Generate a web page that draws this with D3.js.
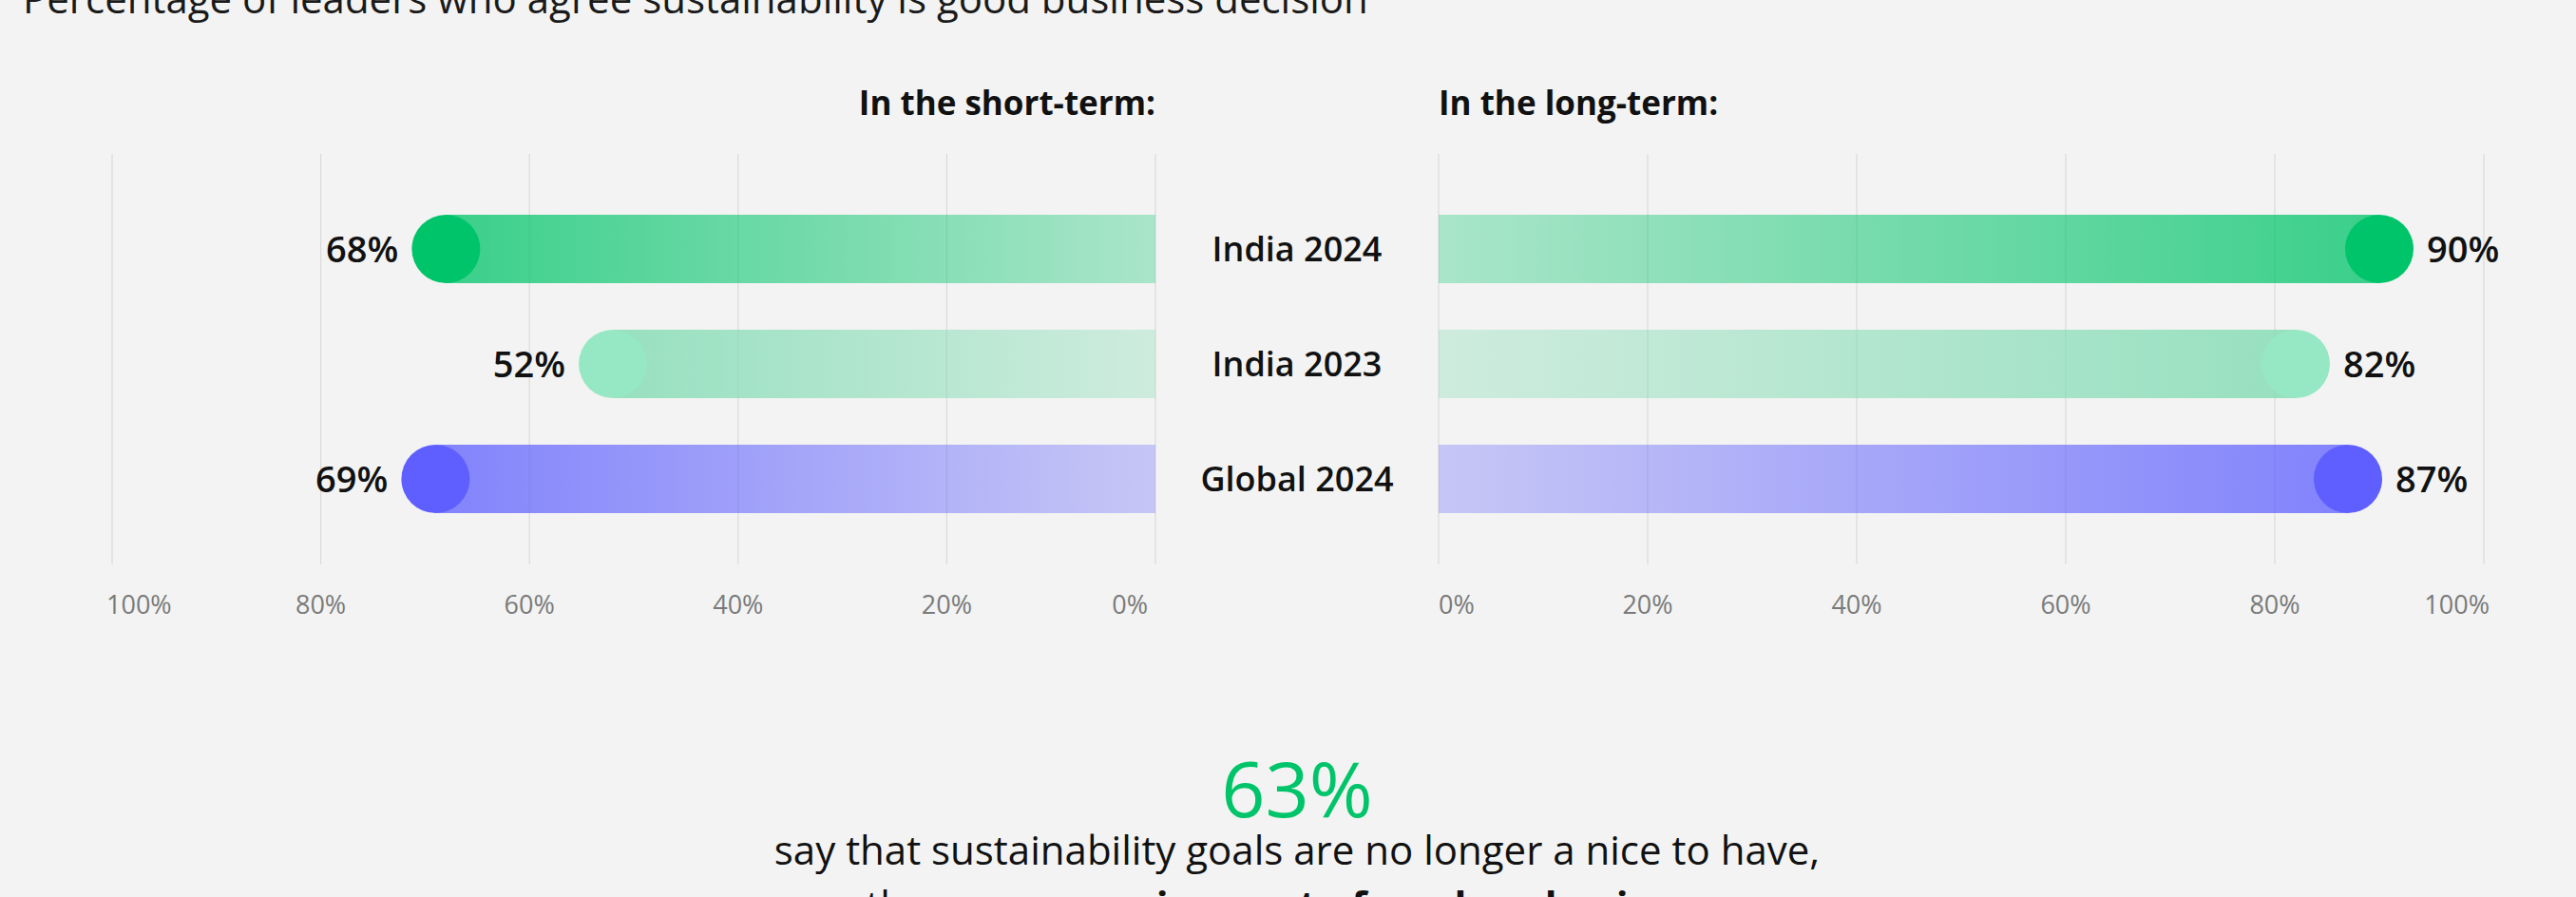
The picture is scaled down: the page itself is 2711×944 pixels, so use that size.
<!DOCTYPE html>
<html>
<head>
<meta charset="utf-8">
<script src="https://cdn.jsdelivr.net/npm/d3@7"></script>
<style>
  body { margin: 0; background: #f2f3f2; }
  svg { display: block; font-family: 'Open Sans', sans-serif; }
</style>
</head>
<body>
<div id="chart"></div>
<script>
const TITLE = 'Percentage of leaders who agree sustainability is good business decision';
const categories = ['India 2024', 'India 2023', 'Global 2024'];
const shortTerm = [68, 52, 69];
const longTerm = [90, 82, 87];
const tickValues = [0, 20, 40, 60, 80, 100];
const capColors = ['#00c46a', '#96e8c4', '#5f5fff'];
const barColors = ['#00c46a', '#7adaaf', '#5f5fff'];
const panelTitles = ['In the short-term:', 'In the long-term:'];
const highlight = '63%';
const noteLine1 = 'say that sustainability goals are no longer a nice to have,';
const noteLine2 = ['they are ', 'a requirement of modern business', '.'];

const W = 2711, H = 944;
const svg = d3.select('#chart').append('svg').attr('width', W).attr('height', H);
const defs = svg.append('defs');

const xLeft = d3.scaleLinear().domain([0, 100]).range([1216, 118]);
const xRight = d3.scaleLinear().domain([0, 100]).range([1514, 2614]);
const y = d3.scalePoint().domain(categories).range([262, 504]);
const BAR_H = 72, R = BAR_H / 2, GRID_TOP = 162, GRID_BOT = 594;

// title (cut at the top like the source)
svg.append('text').attr('x', 24).attr('y', 14).attr('fill', '#1a1a1a')
  .style('font-size', '42px').text(TITLE);

// gradients: strong at the value end, fading toward 0
categories.forEach((c, i) => {
  ['L', 'R'].forEach(side => {
    const g = defs.append('linearGradient').attr('id', `grad${side}${i}`)
      .attr('x1', side === 'L' ? 0 : 1).attr('x2', side === 'L' ? 1 : 0).attr('y1', 0).attr('y2', 0);
    g.append('stop').attr('offset', 0).attr('stop-color', barColors[i]).attr('stop-opacity', 0.76);
    g.append('stop').attr('offset', 1).attr('stop-color', barColors[i]).attr('stop-opacity', 0.3);
  });
});

function panel(x, values, side) {
  const g = svg.append('g');
  g.selectAll('line.grid').data(tickValues).enter().append('line')
    .attr('x1', d => x(d)).attr('x2', d => x(d)).attr('y1', GRID_TOP).attr('y2', GRID_BOT)
    .attr('stroke', '#dadada').attr('stroke-width', 1.2);

  g.selectAll('text.tick').data(tickValues).enter().append('text')
    .attr('x', d => d === 100 ? x(d) + (side === 'L' ? -6 : 6) : d === 0 ? x(d) + (side === 'L' ? -8 : 0) : x(d))
    .attr('y', 646)
    .attr('text-anchor', d => {
      if (d === 0) return side === 'L' ? 'end' : 'start';
      if (d === 100) return side === 'L' ? 'start' : 'end';
      return 'middle';
    })
    .attr('fill', '#7a7a7a').style('font-size', '27px').text(d => d + '%');

  const bars = g.selectAll('g.bar').data(categories).enter().append('g');
  bars.append('rect')
    .attr('x', (d, i) => Math.min(x(0), x(values[i])))
    .attr('width', (d, i) => Math.abs(x(values[i]) - x(0)))
    .attr('y', d => y(d) - R).attr('height', BAR_H)
    .attr('fill', (d, i) => `url(#grad${side}${i})`);
  bars.append('circle')
    .attr('cx', (d, i) => x(values[i])).attr('cy', d => y(d)).attr('r', R)
    .attr('fill', (d, i) => capColors[i]);
  bars.append('text')
    .attr('x', (d, i) => x(values[i]) + (side === 'L' ? -50 : 50))
    .attr('y', d => y(d)).attr('dy', '0.36em')
    .attr('text-anchor', side === 'L' ? 'end' : 'start')
    .attr('fill', '#111').style('font-size', '38px').style('font-weight', 600)
    .text((d, i) => values[i] + '%');
}

panel(xLeft, shortTerm, 'L');
panel(xRight, longTerm, 'R');

svg.append('text').attr('x', xLeft(0)).attr('y', 121).attr('text-anchor', 'end')
  .attr('fill', '#111').style('font-size', '35px').style('font-weight', 700).text(panelTitles[0]);
svg.append('text').attr('x', xRight(0)).attr('y', 121).attr('text-anchor', 'start')
  .attr('fill', '#111').style('font-size', '35px').style('font-weight', 700).text(panelTitles[1]);

// category labels between the panels
const midX = (xLeft(0) + xRight(0)) / 2;
svg.selectAll('text.cat').data(categories).enter().append('text')
  .attr('x', midX).attr('y', d => y(d)).attr('dy', '0.36em').attr('text-anchor', 'middle')
  .attr('fill', '#111').style('font-size', '36px').style('font-weight', 600).text(d => d);

// highlight note
svg.append('text').attr('x', midX).attr('y', 860).attr('text-anchor', 'middle')
  .attr('fill', '#00c46a').style('font-size', '81px').text(highlight);
svg.append('text').attr('x', midX).attr('y', 910).attr('text-anchor', 'middle')
  .attr('fill', '#111').style('font-size', '42px').text(noteLine1);
const l2 = svg.append('text').attr('x', midX).attr('y', 968).attr('text-anchor', 'middle')
  .attr('fill', '#111').style('font-size', '42px');
l2.append('tspan').text(noteLine2[0]);
l2.append('tspan').style('font-weight', 700).text(noteLine2[1]);
l2.append('tspan').text(noteLine2[2]);
</script>
</body>
</html>
